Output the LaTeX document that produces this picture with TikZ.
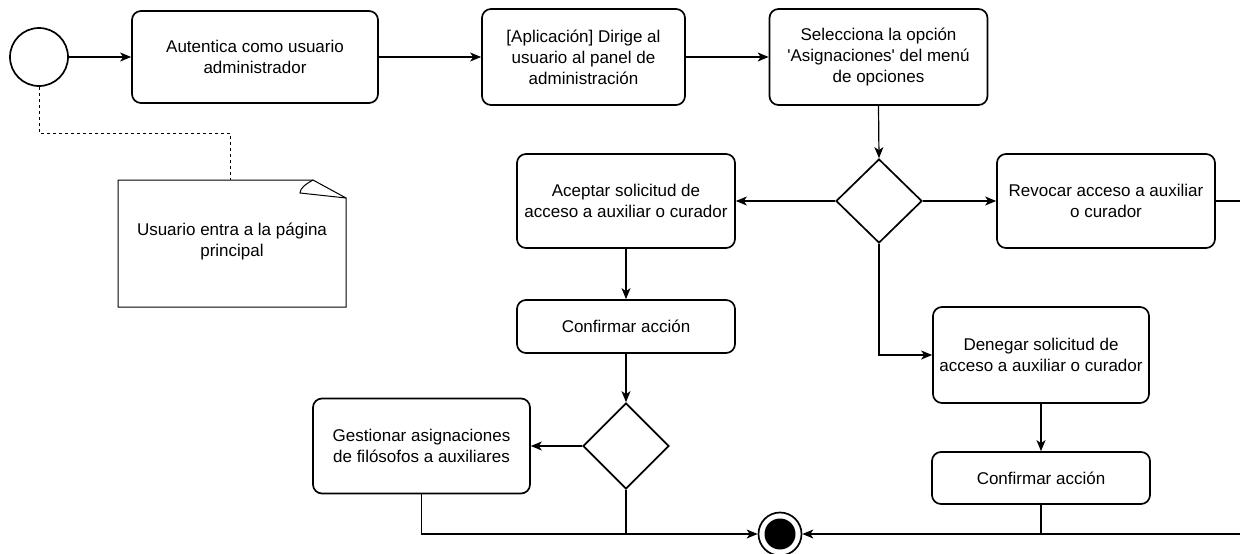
\documentclass[tikz,border=0pt]{standalone}
\usepackage{fontspec}
\setmainfont{Liberation Sans}
\usetikzlibrary{arrows.meta,shapes.geometric}
\begin{document}
\begin{tikzpicture}[x=1pt,y=-1pt,
  every node/.style={font=\fontsize{17}{21}\selectfont, align=center, inner sep=0pt},
  act/.style={draw, line width=1.7pt, rounded corners=9pt, fill=white},
  gate/.style={draw, shape=diamond, line width=1.7pt, fill=white},
  conn/.style={line width=1.2pt},
  arr/.style={conn, -{Stealth[length=11pt,width=9pt,inset=3pt]}},
  notelink/.style={line width=1pt, dashed, dash pattern=on 3pt off 3pt}
]
\clip (0,0) rectangle (1240,554);
\fill[white] (0,0) rectangle (1240,554);

% nodes
\node[draw, circle, line width=1.7pt, minimum size=58pt] (start) at (39,57) {};
\node[act, minimum width=246pt, minimum height=92pt] (auth) at (255,57) {Autentica como usuario\\administrador};
\node[act, minimum width=203pt, minimum height=96pt] (app) at (583.5,57) {[Aplicación] Dirige al\\usuario al panel de\\administración};
\node[act, minimum width=218pt, minimum height=96pt] (sel) at (878.5,57) {Selecciona la opción\\\textquotesingle Asignaciones\textquotesingle{} del menú\\de opciones};
\node[gate, minimum width=86pt, minimum height=84pt] (d1) at (879,201) {};
\node[act, minimum width=218pt, minimum height=94pt] (acc) at (626,201) {Aceptar solicitud de\\acceso a auxiliar o curador};
\node[act, minimum width=218pt, minimum height=94pt] (rev) at (1106,201) {Revocar acceso a auxiliar\\o curador};
\node[act, minimum width=218pt, minimum height=53pt] (conf1) at (626,326.5) {Confirmar acción};
\node[gate, minimum width=86pt, minimum height=86pt] (d2) at (626,446) {};
\node[act, minimum width=217pt, minimum height=95pt] (gest) at (421.5,446) {Gestionar asignaciones\\de filósofos a auxiliares};
\node[act, minimum width=216pt, minimum height=96pt] (den) at (1041,355) {Denegar solicitud de\\acceso a auxiliar o curador};
\node[act, minimum width=218pt, minimum height=52pt] (conf2) at (1041,478) {Confirmar acción};
\node[draw, circle, line width=1.7pt, minimum size=43pt, fill=white] (end) at (780,534) {};
\fill (end.center) circle (15.5pt);

% note
\draw[line width=1pt, fill=white] (118,180) -- (313,180) -- (346,198) -- (346,307) -- (118,307) -- cycle;
\draw[line width=1pt] (313,180) .. controls (306,184) and (300,188) .. (300,193) -- (346,198);
\node (notetext) at (232,242) {Usuario entra a la página\\principal};
\coordinate (notetop) at (230,180);
\coordinate (nb1) at (39,133);
\coordinate (nb2) at (230,133);
\draw[notelink] (start.south) -- (nb1) -- (nb2) -- (notetop);

% connectors
\draw[arr] (start.east) -- (auth.west);
\draw[arr] (auth.east) -- (app.west);
\draw[arr] (app.east) -- (sel.west);
\draw[arr] (sel.south) -- (d1.north);
\draw[arr] (d1.west) -- (acc.east);
\draw[arr] (d1.east) -- (rev.west);
\draw[arr] (d1.south) |- (den.west);
\draw[arr] (acc.south) -- (conf1.north);
\draw[arr] (conf1.south) -- (d2.north);
\draw[arr] (d2.west) -- (gest.east);
\draw[arr] (den.south) -- (conf2.north);
\draw[arr] (gest.south) |- (end.west);
\draw[conn] (d2.south) -- (d2.south |- end);
\coordinate (rr1) at (1252,201);
\coordinate (rr2) at (1252,534);
\draw[arr] (rev.east) -- (rr1) -- (rr2) -- (end.east);
\draw[conn] (conf2.south) -- (conf2.south |- end);
\end{tikzpicture}
\end{document}
